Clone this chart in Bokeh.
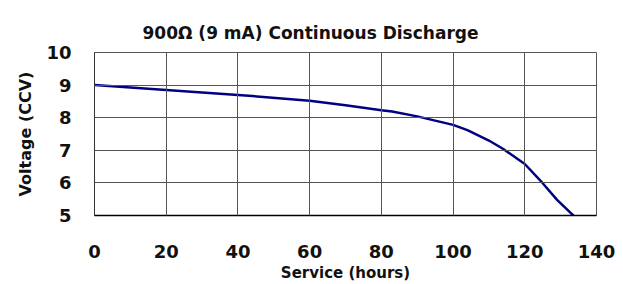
from bokeh.plotting import figure
from bokeh.embed import file_html
from bokeh.resources import INLINE
from bokeh.models import FixedTicker

hours = [0, 20, 40, 60, 70, 80, 83, 90, 100, 104, 110, 114, 120, 125, 129, 134.5]
volts = [9.0, 8.85, 8.70, 8.52, 8.38, 8.23, 8.19, 8.04, 7.78, 7.62, 7.30, 7.04, 6.58, 5.99, 5.48, 4.9]
x_ticks = [0, 20, 40, 60, 80, 100, 120, 140]
y_ticks = [5, 6, 7, 8, 9, 10]
title_text = "900Ω (9 mA) Continuous Discharge"

FONT = "DejaVu Sans"

p = figure(width=623, height=284, output_backend="svg", toolbar_location=None,
           x_range=(0, 140), y_range=(5, 10),
           min_border_left=94, min_border_right=27, min_border_top=52, min_border_bottom=69,
           title=title_text)
p.title.text_font = FONT
p.title.text_font_size = "17px"
p.title.text_font_style = "bold"
p.title.align = "left"
p.title.offset = 48
p.title.standoff = 20
p.title.text_color = "#111111"

p.line(hours, volts, line_color="#000080", line_width=2.5)

p.xaxis.ticker = FixedTicker(ticks=x_ticks)
p.yaxis.ticker = FixedTicker(ticks=y_ticks)
for ax in (p.xaxis[0], p.yaxis[0]):
    ax.major_tick_line_color = None
    ax.minor_tick_line_color = None
    ax.major_label_text_font = FONT
    ax.major_label_text_font_size = "18px"
    ax.major_label_text_font_style = "bold"
    ax.major_label_text_color = "#111111"
    ax.axis_label_text_font = FONT
    ax.axis_label_text_font_style = "bold"
    ax.axis_label_text_color = "#111111"
p.xaxis.axis_label = "Service (hours)"
p.yaxis.axis_label = "Voltage (CCV)"
p.xaxis.axis_label_text_font_size = "15px"
p.yaxis.axis_label_text_font_size = "16px"
p.xaxis.major_label_standoff = 23
p.yaxis.major_label_standoff = 17
p.xaxis.axis_label_standoff = 3
p.yaxis.axis_label_standoff = 8
p.xaxis.axis_line_color = "#000000"
p.xaxis.axis_line_width = 1.5
p.yaxis.axis_line_color = "#333333"

p.xgrid.ticker = FixedTicker(ticks=x_ticks)
p.ygrid.ticker = FixedTicker(ticks=y_ticks)
p.grid.grid_line_color = "#555555"
p.grid.grid_line_alpha = 1
p.grid.level = "overlay"
p.outline_line_color = "#555555"
p.background_fill_color = "white"
p.border_fill_color = "white"

open("out.html", "w").write(file_html(p, INLINE))
